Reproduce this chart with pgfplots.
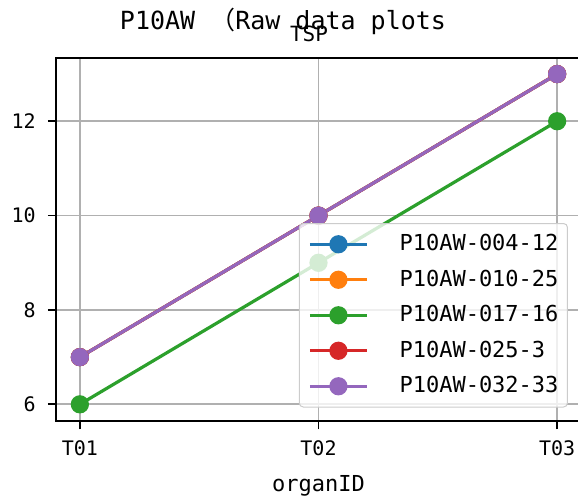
\documentclass[border=0pt]{standalone}
\usepackage{fontspec}
\setmainfont{DejaVu Sans Mono}
\newfontfamily\cjk{Noto Sans CJK SC}
\usepackage{pgfplots}
\pgfplotsset{compat=1.18}
\definecolor{c0}{HTML}{1F77B4}
\definecolor{c1}{HTML}{FF7F0E}
\definecolor{c2}{HTML}{2CA02C}
\definecolor{c3}{HTML}{D62728}
\definecolor{c4}{HTML}{9467BD}
\definecolor{gridgray}{HTML}{B0B0B0}
\definecolor{legendgray}{HTML}{CCCCCC}
\begin{document}
\begin{tikzpicture}
\begin{axis}[
  name=ax,
  scale only axis,
  width=262.5pt, height=181.65pt,
  xmin=-0.1, xmax=2.1, ymin=5.64, ymax=13.34,
  xtick={0,1,2}, xticklabels={T01,T02,T03},
  ytick={6,8,10,12},
  grid=major,
  grid style={color=gridgray, line width=0.85pt},
  axis line style={line width=0.85pt},
  tick style={line width=0.85pt, black},
  tick align=outside, tick pos=left,
  major tick length=4pt,
  /pgf/number format/assume math mode=true,
  ticklabel style={font=\fontsize{10}{12}\selectfont},
  xticklabel style={inner sep=0pt, anchor=north, yshift=-5.35pt},
  yticklabel style={inner sep=0pt, anchor=east, xshift=-6pt},
  xlabel={organID},
  xlabel style={font=\fontsize{11}{13}\selectfont, at={(axis description cs:0.5,0)}, anchor=base, yshift=-35.2pt, inner sep=0pt},
  every axis plot/.append style={line width=1.6pt},
  legend cell align=left,
  legend style={at={(0.9752,0.5458)}, anchor=north east,
    draw=legendgray, line width=0.5pt, fill=white, fill opacity=0.8,
    text opacity=1, draw opacity=1, rounded corners=2pt,
    inner xsep=4.5pt, inner ysep=1.5pt,
    font=\fontsize{11}{13}\selectfont,
    nodes={inner xsep=0pt, inner ysep=0pt, minimum height=17.75pt},
    row sep=0pt},
  legend image code/.code={\draw[mark repeat=2, mark phase=2, fill opacity=1, draw opacity=1, rounded corners=0pt, #1] plot coordinates {(0pt,0pt) (14.25pt,0pt) (28.5pt,0pt)}; \path (44pt,0pt);},
]
\addplot[color=c0, mark=*, mark size=3.75pt, mark options={solid, fill=c0, draw=none}] coordinates {(0,7) (1,10) (2,13)};
\addlegendentry{P10AW-004-12}
\addplot[color=c1, mark=*, mark size=3.75pt, mark options={solid, fill=c1, draw=none}] coordinates {(0,7) (1,10) (2,13)};
\addlegendentry{P10AW-010-25}
\addplot[color=c2, mark=*, mark size=3.75pt, mark options={solid, fill=c2, draw=none}] coordinates {(0,6) (1,9) (2,12)};
\addlegendentry{P10AW-017-16}
\addplot[color=c3, mark=*, mark size=3.75pt, mark options={solid, fill=c3, draw=none}] coordinates {(0,7) (1,10) (2,13)};
\addlegendentry{P10AW-025-3}
\addplot[color=c4, mark=*, mark size=3.75pt, mark options={solid, fill=c4, draw=none}] coordinates {(0,7) (1,10) (2,13)};
\addlegendentry{P10AW-032-33}
\end{axis}
\node[anchor=base, inner sep=0pt, font=\fontsize{12.5}{15}\selectfont] at ([shift={(113.5pt,196pt)}]ax.south west) {P10AW {\cjk （}Raw data plots};
\node[anchor=base, inner sep=0pt, font=\fontsize{10.5}{12}\selectfont] at ([shift={(126.5pt,189.8pt)}]ax.south west) {TSP};
\pgfresetboundingbox
\path[use as bounding box] (ax.south west) ++(-28pt,-38.85pt) rectangle ++(289pt,249.5pt);
\end{tikzpicture}
\end{document}
